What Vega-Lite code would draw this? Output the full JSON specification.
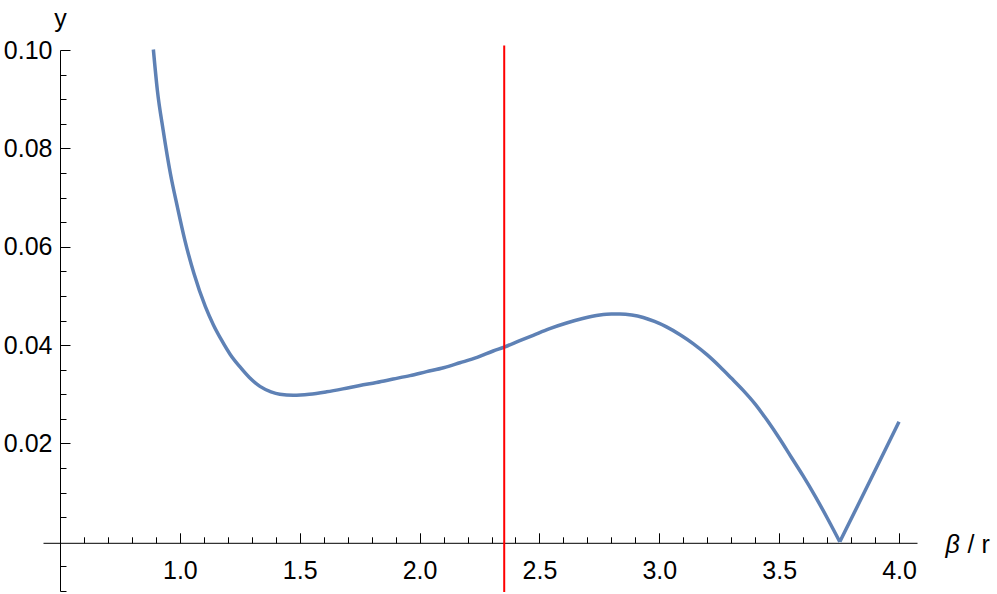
{
  "$schema": "https://vega.github.io/schema/vega-lite/v6.json",
  "autosize": {"type": "none"},
  "padding": {"left": 43, "top": 50, "right": 80, "bottom": 3},
  "width": 874,
  "height": 541,
  "background": "white",
  "config": {
    "view": {"stroke": null},
    "axis": {
      "grid": false,
      "labelFont": "Liberation Sans",
      "labelFontSize": 25,
      "labelColor": "#000000",
      "titleFont": "Liberation Sans",
      "titleFontSize": 25,
      "titleFontWeight": "normal",
      "titleColor": "#000000",
      "domainColor": "#000000",
      "domainWidth": 1,
      "tickColor": "#000000",
      "tickWidth": 1,
      "labelOverlap": false,
      "labelBound": false,
      "labelFlush": false
    }
  },
  "datasets": {
    "curve": [
      {"beta": 0.8894, "y": 0.1001},
      {"beta": 0.9061, "y": 0.0918},
      {"beta": 0.9303, "y": 0.0837},
      {"beta": 0.9604, "y": 0.0749},
      {"beta": 0.9896, "y": 0.0681},
      {"beta": 1.0209, "y": 0.0613},
      {"beta": 1.0584, "y": 0.0546},
      {"beta": 1.1064, "y": 0.0478},
      {"beta": 1.140, "y": 0.0441},
      {"beta": 1.174, "y": 0.0410},
      {"beta": 1.210, "y": 0.0381},
      {"beta": 1.250, "y": 0.0356},
      {"beta": 1.290, "y": 0.0334},
      {"beta": 1.334, "y": 0.0316},
      {"beta": 1.380, "y": 0.0305},
      {"beta": 1.417, "y": 0.0300},
      {"beta": 1.473, "y": 0.0298},
      {"beta": 1.540, "y": 0.0300},
      {"beta": 1.612, "y": 0.0305},
      {"beta": 1.680, "y": 0.0311},
      {"beta": 1.751, "y": 0.0318},
      {"beta": 1.820, "y": 0.0324},
      {"beta": 1.890, "y": 0.0331},
      {"beta": 1.960, "y": 0.0338},
      {"beta": 2.029, "y": 0.0346},
      {"beta": 2.100, "y": 0.0354},
      {"beta": 2.168, "y": 0.0364},
      {"beta": 2.240, "y": 0.0375},
      {"beta": 2.307, "y": 0.0388},
      {"beta": 2.353, "y": 0.0396},
      {"beta": 2.418, "y": 0.0409},
      {"beta": 2.474, "y": 0.0420},
      {"beta": 2.540, "y": 0.0433},
      {"beta": 2.613, "y": 0.0445},
      {"beta": 2.680, "y": 0.0454},
      {"beta": 2.752, "y": 0.0461},
      {"beta": 2.800, "y": 0.0463},
      {"beta": 2.836, "y": 0.0463},
      {"beta": 2.885, "y": 0.0461},
      {"beta": 2.933, "y": 0.0456},
      {"beta": 2.980, "y": 0.0448},
      {"beta": 3.030, "y": 0.0437},
      {"beta": 3.090, "y": 0.0420},
      {"beta": 3.141, "y": 0.0403},
      {"beta": 3.200, "y": 0.0380},
      {"beta": 3.253, "y": 0.0356},
      {"beta": 3.300, "y": 0.0333},
      {"beta": 3.350, "y": 0.0308},
      {"beta": 3.400, "y": 0.0280},
      {"beta": 3.450, "y": 0.0247},
      {"beta": 3.500, "y": 0.0211},
      {"beta": 3.550, "y": 0.01725},
      {"beta": 3.600, "y": 0.0134},
      {"beta": 3.650, "y": 0.0093},
      {"beta": 3.700, "y": 0.0049},
      {"beta": 3.753, "y": 0.0000}
    ],
    "tail": [
      {"beta": 3.753, "y": 0.0000},
      {"beta": 3.879, "y": 0.0124},
      {"beta": 4.000, "y": 0.0244}
    ],
    "marker": [
      {"beta": 2.353, "ylo": -0.0102, "yhi": 0.1009}
    ]
  },
  "layer": [
    {
      "data": {"name": "curve"},
      "mark": {"type": "line", "color": "#5E81B5", "strokeWidth": 3.5, "interpolate": "monotone", "strokeJoin": "round", "strokeCap": "butt", "clip": false},
      "encoding": {
        "x": {
          "field": "beta",
          "type": "quantitative",
          "scale": {"domain": [0.429, 4.075], "nice": false, "zero": false},
          "axis": {
            "orient": "bottom",
            "offset": -48.2,
            "values": [0.6,0.7,0.8,0.9,1.0,1.1,1.2,1.3,1.4,1.5,1.6,1.7,1.8,1.9,2.0,2.1,2.2,2.3,2.4,2.5,2.6,2.7,2.8,2.9,3.0,3.1,3.2,3.3,3.4,3.5,3.6,3.7,3.8,3.9,4.0],
            "tickSize": {"condition": {"test": "abs(datum.value*2 - round(datum.value*2)) < 0.001", "value": -10}, "value": -6},
            "labelPadding": 26,
            "labelBaseline": "top",
            "labelExpr": "abs(datum.value*2 - round(datum.value*2)) < 0.001 ? format(datum.value, '.1f') : ''",
            "title": "β",
            "titleFontStyle": "italic",
            "titleX": 902,
            "titleY": 10,
            "titleAlign": "left",
            "titleBaseline": "alphabetic",
            "titleAnchor": null
          }
        },
        "y": {
          "field": "y",
          "type": "quantitative",
          "scale": {"domain": [-0.01, 0.1], "nice": false, "zero": false},
          "axis": {
            "orient": "left",
            "offset": -17,
            "values": [-0.01,-0.005,0.005,0.01,0.015,0.02,0.025,0.03,0.035,0.04,0.045,0.05,0.055,0.06,0.065,0.07,0.075,0.08,0.085,0.09,0.095,0.1],
            "tickSize": {"condition": {"test": "abs(datum.value*50 - round(datum.value*50)) < 0.001", "value": -10}, "value": -6},
            "labelPadding": 18,
            "labelBaseline": "middle",
            "labelExpr": "abs(datum.value*50 - round(datum.value*50)) < 0.001 ? format(datum.value, '.2f') : ''",
            "title": "y",
            "titleAngle": 0,
            "titleX": 0,
            "titleY": -24,
            "titleAlign": "center",
            "titleBaseline": "alphabetic",
            "titleAnchor": null
          }
        }
      }
    },
    {
      "data": {"name": "tail"},
      "mark": {"type": "line", "color": "#5E81B5", "strokeWidth": 3.5, "interpolate": "linear", "strokeJoin": "miter", "strokeCap": "butt", "clip": false},
      "encoding": {
        "x": {"field": "beta", "type": "quantitative", "axis": null},
        "y": {"field": "y", "type": "quantitative", "axis": null}
      }
    },
    {
      "data": {"name": "marker"},
      "mark": {"type": "rule", "color": "#FF0000", "strokeWidth": 2, "clip": false},
      "encoding": {
        "x": {
          "field": "beta",
          "type": "quantitative",
          "axis": {
            "orient": "bottom",
            "offset": -48.2,
            "ticks": false,
            "labels": false,
            "domain": false,
            "title": "/  r",
            "titleX": 924,
            "titleY": 10,
            "titleAlign": "left",
            "titleBaseline": "alphabetic",
            "titleAnchor": null
          }
        },
        "y": {"field": "ylo", "type": "quantitative", "axis": null},
        "y2": {"field": "yhi"}
      }
    }
  ],
  "resolve": {"axis": {"x": "independent", "y": "independent"}}
}
